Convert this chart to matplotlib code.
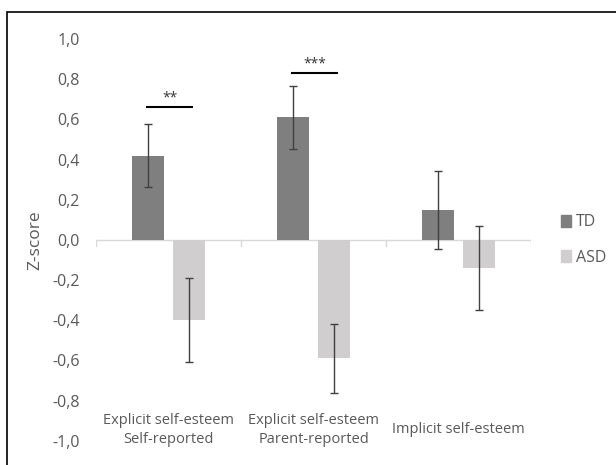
import matplotlib
matplotlib.use("Agg")
import matplotlib.pyplot as plt
from matplotlib.patches import Rectangle, Patch

plt.rcParams['font.family'] = ['Open Sans', 'DejaVu Sans']

categories = ["Explicit self-esteem\nSelf-reported",
              "Explicit self-esteem\nParent-reported",
              "Implicit self-esteem"]
td_values = [0.42, 0.61, 0.15]
td_errors = [0.155, 0.155, 0.195]
asd_values = [-0.40, -0.59, -0.14]
asd_errors = [0.21, 0.17, 0.21]
yticks = [-1.0, -0.8, -0.6, -0.4, -0.2, 0.0, 0.2, 0.4, 0.6, 0.8, 1.0]
sig_marks = ["**", "***", ""]
sig_heights = [0.66, 0.83, None]

td_color = "#7f7f7f"
asd_color = "#d0cece"
text_color = "#595959"

fig = plt.figure(figsize=(6.16, 4.65), dpi=100)
ax = fig.add_axes([0.156, 0.052, 0.706, 0.864])

x = list(range(len(categories)))
w = 0.22
off = 0.141
ax.bar([i - off for i in x], td_values, w, color=td_color,
       yerr=td_errors, error_kw=dict(ecolor="#404040", elinewidth=1, capsize=3, capthick=1))
ax.bar([i + off for i in x], asd_values, w, color=asd_color,
       yerr=asd_errors, error_kw=dict(ecolor="#404040", elinewidth=1, capsize=3, capthick=1))

ax.set_xlim(-0.5, 2.5)
ax.set_ylim(-1.0, 1.0)
ax.set_yticks(yticks)
ax.set_yticklabels(["{:.1f}".format(v).replace(".", ",") for v in yticks],
                   fontsize=11.5, color=text_color)
ax.tick_params(axis='y', length=0, pad=12)
ax.set_xticks([])
for s in ax.spines.values():
    s.set_visible(False)

ax.axhline(0, color="#d9d9d9", lw=1, zorder=0)
for b in [-0.5, 0.5, 1.5, 2.5]:
    ax.plot([b, b], [0, -0.03], color="#d9d9d9", lw=1, zorder=0)

for i, lab in enumerate(categories):
    ax.text(i, -0.945, lab, ha='center', va='center', fontsize=10.5,
            color=text_color, linespacing=1.35)

for i, m in enumerate(sig_marks):
    if m:
        ax.plot([i - 0.148, i + 0.162], [sig_heights[i]] * 2, color="black", lw=1.5)
        ax.text(i + 0.01, sig_heights[i] + 0.01, m, ha='center', va='bottom',
                fontsize=10, color="#333333")

ax.set_ylabel("Z-score", fontsize=12.5, color=text_color)
ax.yaxis.set_label_coords(-0.122, 0.5)

handles = [Patch(color=td_color), Patch(color=asd_color)]
ax.legend(handles, ["TD", "ASD"], loc='center left', bbox_to_anchor=(1.035, 0.5),
          frameon=False, handlelength=0.65, handleheight=0.8, handletextpad=0.3,
          labelspacing=1.2, fontsize=11.5, labelcolor=text_color)

fig.patches.append(Rectangle((7 / 616, -0.1), 1.2, (465 - 12) / 465 + 0.1,
                             transform=fig.transFigure, fill=False,
                             edgecolor="black", lw=1.2))

fig.savefig("out.png", dpi=100)
